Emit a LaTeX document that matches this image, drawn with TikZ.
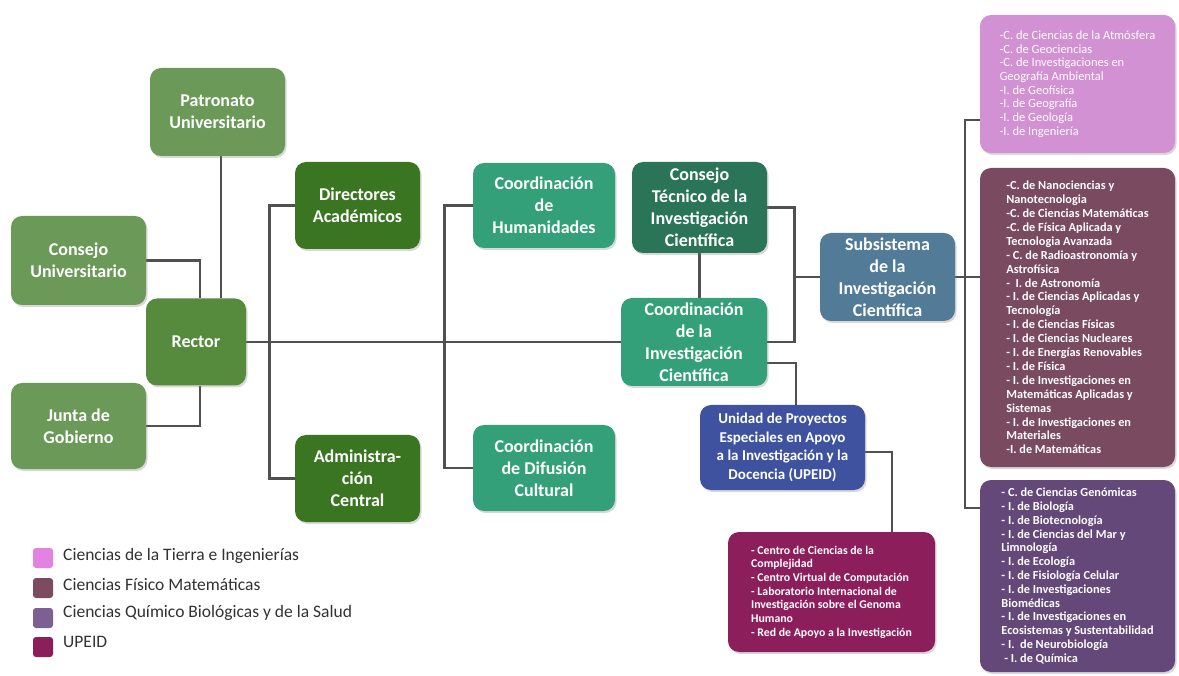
\documentclass[tikz,border=0pt]{standalone}
\usepackage{fontspec}
\setmainfont{Carlito}
\usetikzlibrary{calc,shadows}
\pgfdeclarelayer{bg}
\pgfdeclarelayer{lines}
\pgfsetlayers{bg,lines,main}
\setlength{\lineskiplimit}{-20pt}
\definecolor{cLight}{RGB}{106,153,88}
\definecolor{cRector}{RGB}{86,139,62}
\definecolor{cDark}{RGB}{58,118,34}
\definecolor{cCoord}{RGB}{52,160,122}
\definecolor{cTech}{RGB}{42,116,88}
\definecolor{cSub}{RGB}{82,123,152}
\definecolor{cUpe}{RGB}{62,82,160}
\definecolor{cUpl}{RGB}{140,30,92}
\definecolor{cBa}{RGB}{210,145,210}
\definecolor{cBb}{RGB}{121,74,96}
\definecolor{cBc}{RGB}{100,72,122}
\definecolor{cSqa}{RGB}{228,130,225}
\definecolor{cSqb}{RGB}{125,75,95}
\definecolor{cSqc}{RGB}{125,95,145}
\definecolor{cSqd}{RGB}{140,30,90}
\definecolor{cLine}{RGB}{80,80,80}
\definecolor{cLegend}{RGB}{50,50,50}
\tikzset{
  box/.style={rounded corners=11pt, text=white, align=center, inner sep=2pt,
    font=\bfseries\fontsize{18}{22}\selectfont,
    drop shadow={shadow xshift=1.5pt,shadow yshift=-2pt,opacity=0.3}},
  wh/.style 2 args={minimum width=#1pt, minimum height=#2pt},
  listbox/.style={box, align=left, font=\bfseries\fontsize{12}{14.7}\selectfont},
  conn/.style={draw=cLine, line width=2.8pt},
  legsq/.style={rounded corners=3pt, minimum width=20pt, minimum height=20pt, inner sep=0pt},
  legtxt/.style={anchor=west, text=cLegend, font=\fontsize{17.5}{20}\selectfont, inner sep=0pt}
}
\begin{document}
\begin{tikzpicture}[x=1pt,y=-1pt]
\begin{pgfonlayer}{bg}
\fill[white] (0,0) rectangle (1179,676);
\end{pgfonlayer}
\useasboundingbox (0,0) rectangle (1179,676);

% left part
\node[box, fill=cLight, wh={135}{88}] (pat) at (217.5,112) {Patronato\\Universitario};
\node[box, fill=cLight, wh={135}{89}] (cu) at (78.5,260.5) {Consejo\\Universitario};
\node[box, fill=cRector, wh={100}{87}] (rec) at (196,342) {Rector};
\node[box, fill=cLight, wh={135}{86}] (jg) at (78.5,426) {Junta de\\Gobierno};
\node[box, fill=cDark, wh={125}{87}] (dir) at (357.5,205.5) {Directores\\Académicos};
\node[box, fill=cDark, wh={125}{87}] (adm) at (357.5,478.5) {Administra-\\ción\\Central};
\node[box, fill=cCoord, wh={142}{85}] (hum) at (544,205.5) {Coordinación\\de\\Humanidades};
\node[box, fill=cCoord, wh={142}{86}] (dif) at (544,468) {Coordinación\\de Difusión\\Cultural};
\node[box, fill=cTech, wh={135}{91}] (ct) at (699.5,207.5) {Consejo\\Técnico de la\\Investigación\\Científica};
\node[box, fill=cCoord, wh={146}{88}] (ci) at (694,342) {Coordinación\\de la\\Investigación\\Científica};
\node[box, fill=cSub, wh={135}{88}] (sub) at (887.5,277) {Subsistema\\de la\\Investigación\\Científica};
\node[box, fill=cUpe, wh={165}{85}, font=\bfseries\fontsize{15}{18.5}\selectfont] (upe) at (782.5,447.5)
  {Unidad de Proyectos\\Especiales en Apoyo\\a la Investigación y la\\Docencia (UPEID)};
\node[listbox, fill=cUpl, wh={207}{120}, font=\bfseries\fontsize{11.8}{13.7}\selectfont] (upl) at (831.5,592)
  {- Centro de Ciencias de la\\Complejidad\\- Centro Virtual de Computación\\- Laboratorio Internacional de\\Investigación sobre el Genoma\\Humano\\- Red de Apoyo a la Investigación};

% right column
\node[listbox, fill=cBa, wh={195}{138}, font=\fontsize{12.5}{13.7}\selectfont] (ba) at (1077.5,84)
  {-C. de Ciencias de la Atmósfera\\-C. de Geociencias\\-C. de Investigaciones en\\Geografía Ambiental\\-I. de Geofísica\\-I. de Geografía\\-I. de Geología\\-I. de Ingeniería};
\node[listbox, fill=cBb, wh={195}{299}, font=\bfseries\fontsize{12.3}{13.9}\selectfont] (bb) at (1077.5,317.5)
  {-C. de Nanociencias y\\Nanotecnologia\\-C. de Ciencias Matemáticas\\-C. de Física Aplicada y\\Tecnologia Avanzada\\- C. de Radioastronomía y\\Astrofísica\\- \ I. de Astronomía\\- I. de Ciencias Aplicadas y\\Tecnología\\- I. de Ciencias Físicas\\- I. de Ciencias Nucleares\\- I. de Energías Renovables\\- I. de Física\\- I. de Investigaciones en\\Matemáticas Aplicadas y\\Sistemas\\- I. de Investigaciones en\\Materiales\\-I. de Matemáticas};
\node[listbox, fill=cBc, wh={195}{192}, font=\bfseries\fontsize{12.3}{13.8}\selectfont] (bc) at (1077.5,576)
  {- C. de Ciencias Genómicas\\- I. de Biología\\- I. de Biotecnología\\- I. de Ciencias del Mar y\\Limnología\\- I. de Ecología\\- I. de Fisiología Celular\\- I. de Investigaciones\\Biomédicas\\- I. de Investigaciones en\\Ecosistemas y Sustentabilidad\\- I. \ de Neurobiología\\\ - I. de Química};

% legend
\node[legsq, fill=cSqa] (sqa) at (43,558) {};
\node[legsq, fill=cSqb] (sqb) at (43,588) {};
\node[legsq, fill=cSqc] (sqc) at (43,618) {};
\node[legsq, fill=cSqd] (sqd) at (43,647) {};
\node[legtxt] (la) at (63,556) {Ciencias de la Tierra e Ingenierías};
\node[legtxt] (lb) at (63,585) {Ciencias Físico Matemáticas};
\node[legtxt] (lc) at (63,613) {Ciencias Químico Biológicas y de la Salud};
\node[legtxt] (ld) at (63,642) {UPEID};

% connectors
\begin{pgfonlayer}{lines}
\draw[conn] (cu.east) -| ($(rec.north)+(4,0)$);
\draw[conn] (jg.east) -| ($(rec.south)+(4,0)$);
\draw[conn] ($(pat.south)+(3.5,0)$) -- ($(rec.north)+(25,0)$);
\draw[conn] (rec.east) -- (ci.west);
\draw[conn] (dir.west) -- ++(-25,0) |- (adm.west);
\draw[conn] (hum.west) -- ++(-28,0) |- (dif.west);
\draw[conn] (ct.south) -- (ct.south |- ci.north);
\draw[conn] (ct.east) -- ++(27,0) |- (ci.east);
\draw[conn] (sub.west) -- ++(-27,0);
\draw[conn] ($(ci.east)+(0,21)$) -| ($(upe.north)+(13.5,0)$);
\draw[conn] ($(upe.east)+(0,4.5)$) -| ($(upl.north)+(60.5,0)$);
\draw[conn] (sub.east) -- (sub.east -| bb.west);
\draw[conn, line width=1.8pt] ($(ba.west)+(0,36)$) -- ++(-15,0) |- ($(bc.west)+(0,-68)$);
\end{pgfonlayer}
\end{tikzpicture}
\end{document}
